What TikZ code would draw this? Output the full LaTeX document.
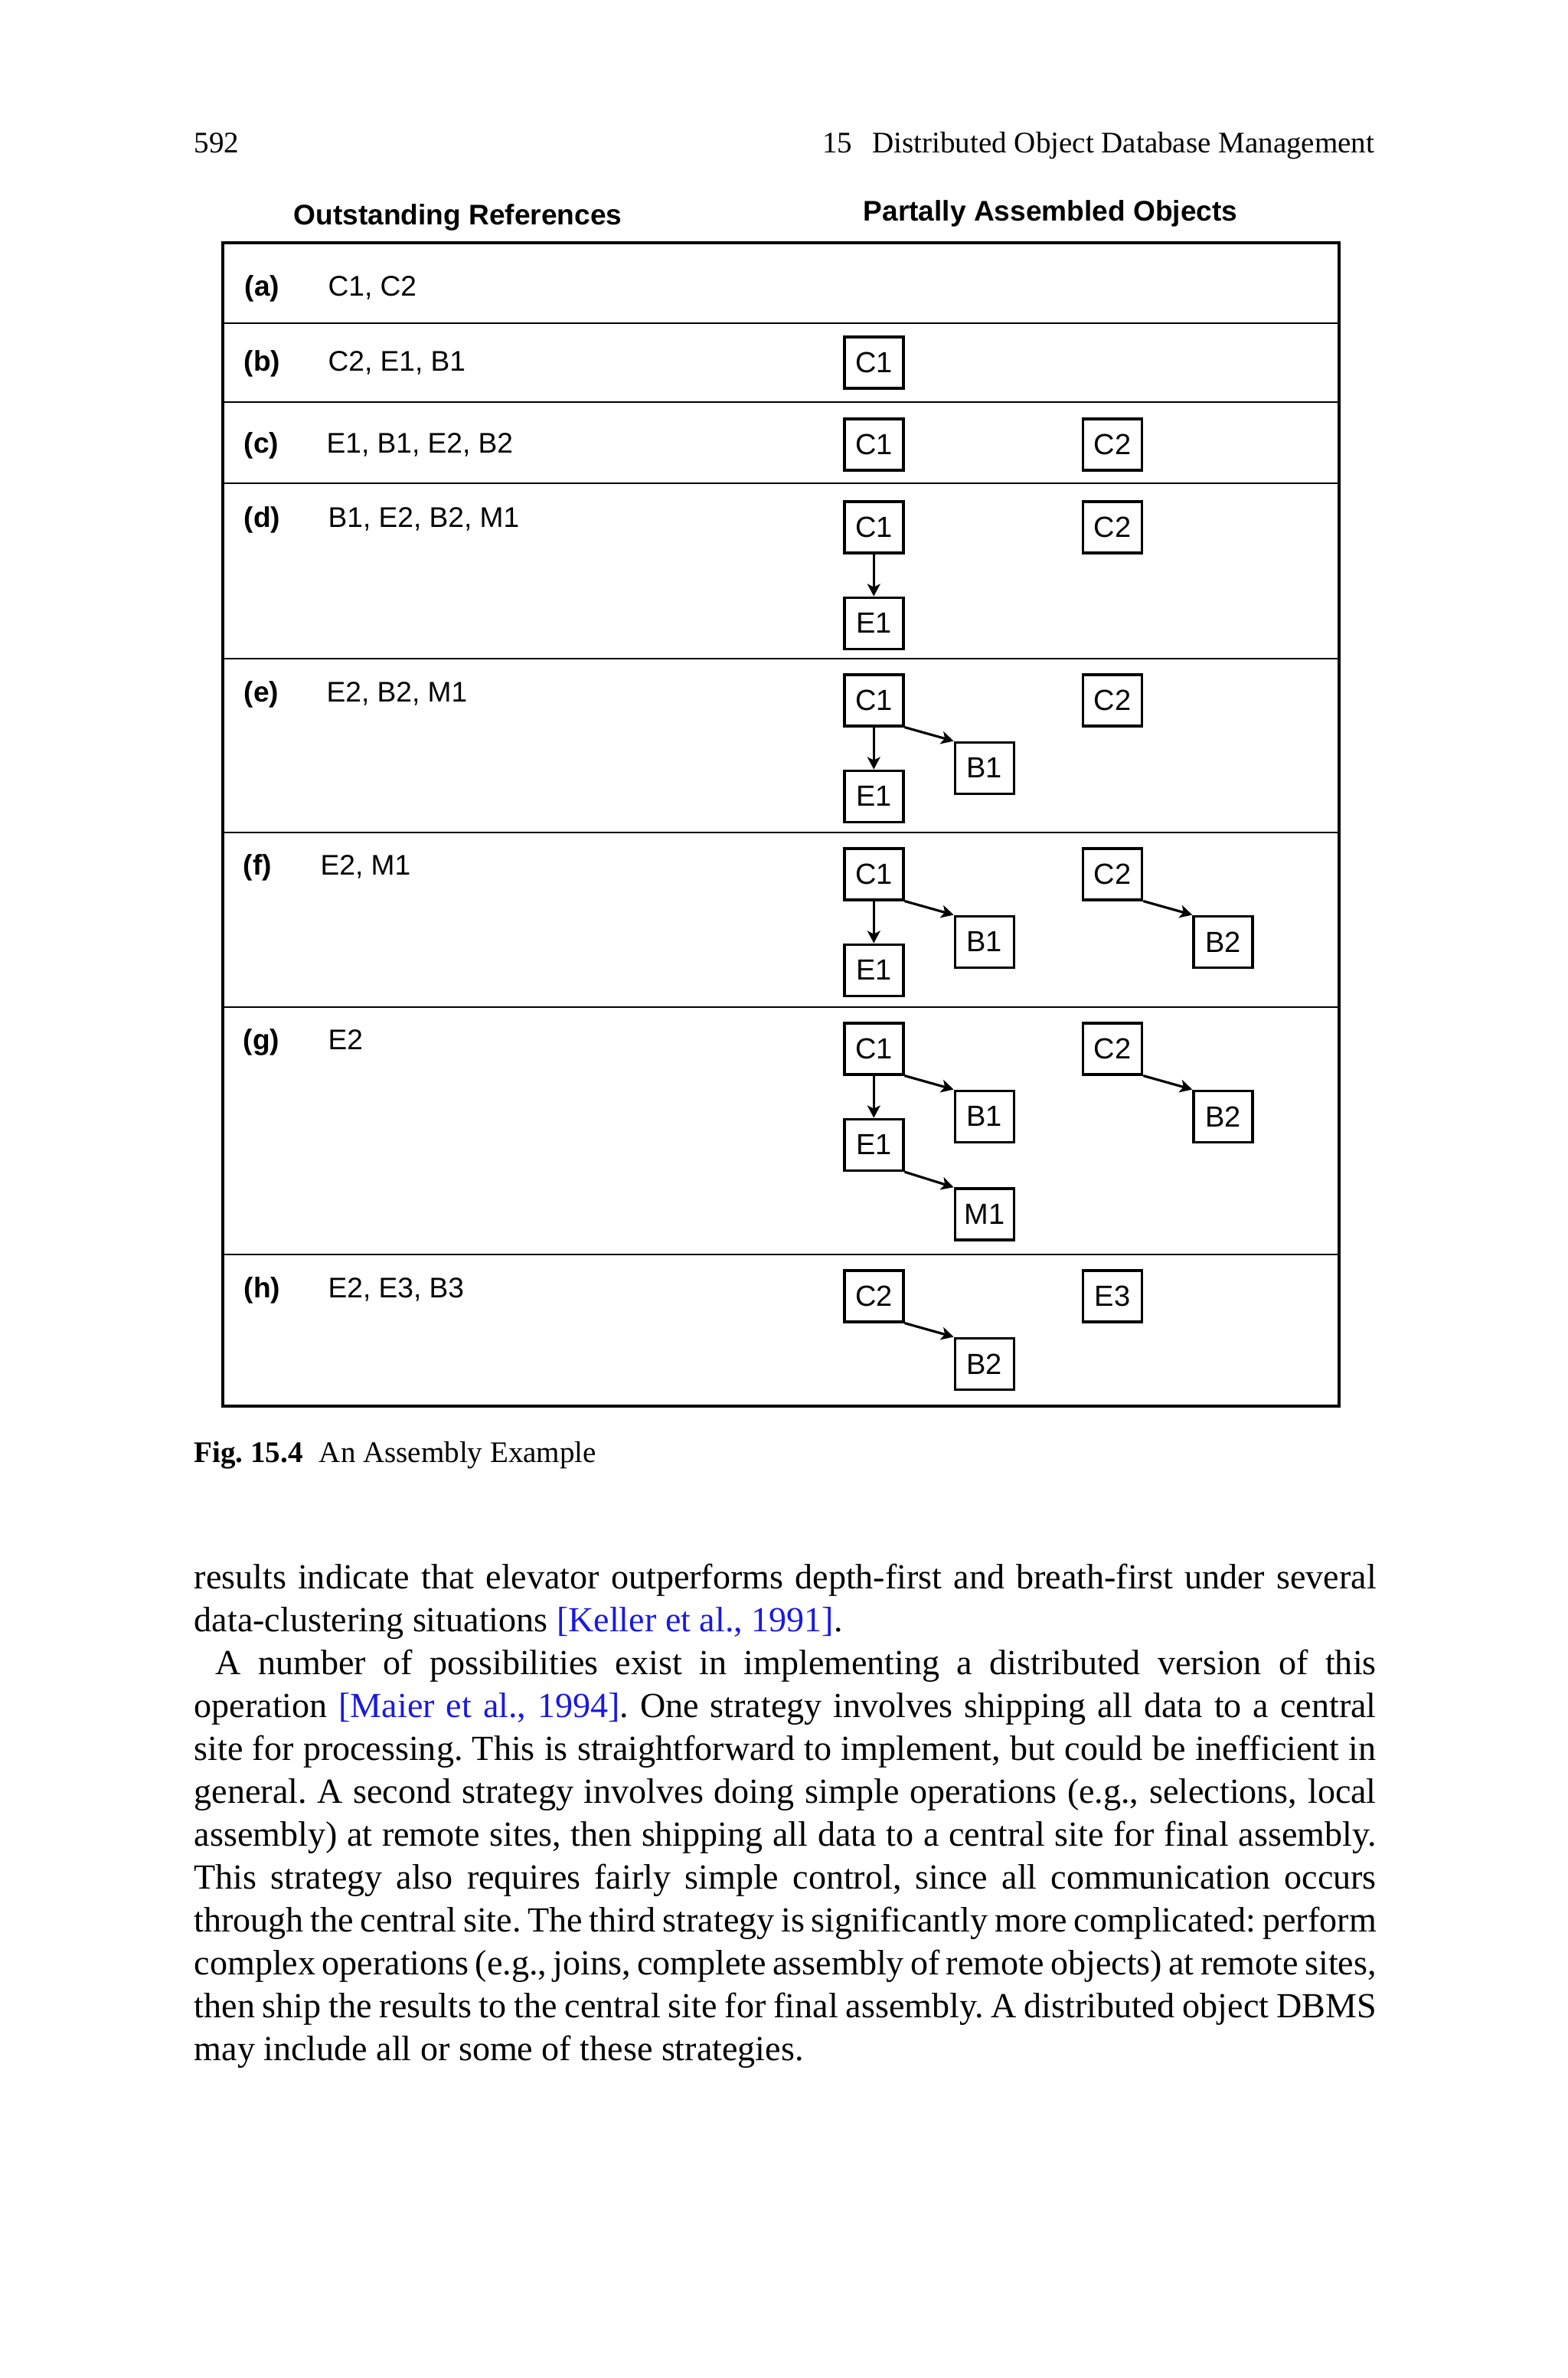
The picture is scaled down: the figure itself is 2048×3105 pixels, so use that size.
\documentclass[tikz,border=0pt]{standalone}
\usepackage{fontspec}
\setmainfont{Liberation Serif}
\newfontfamily\arialfont{Liberation Sans}
\usepackage{xcolor}
\usetikzlibrary{arrows.meta,positioning}
\definecolor{citeblue}{RGB}{25,25,225}
\frenchspacing
\newcommand{\justline}[1]{\makebox[15.43cm][s]{#1}}
\tikzset{obj/.style={draw,line width=1pt,minimum width=0.77cm,minimum height=0.67cm,inner sep=0pt,font=\arialfont\fontsize{10.8}{12}\selectfont},
  refarrow/.style={-{Stealth[length=4.6pt,width=4.8pt,inset=1.2pt]},line width=0.9pt},
  rowlab/.style={anchor=base west,inner sep=0pt,font=\arialfont\bfseries\fontsize{10.55}{12}\selectfont},
  rowtxt/.style={anchor=base west,inner sep=0pt,font=\arialfont\fontsize{10.55}{12}\selectfont},
  bodytext/.style={anchor=base west,inner sep=0pt,font=\fontsize{13.1}{15.9}\selectfont},
  headline/.style={inner sep=0pt,font=\fontsize{11.1}{13}\selectfont}}

\begin{document}
\begin{tikzpicture}[x=0.01cm,y=-0.01cm]
\useasboundingbox (0,0) rectangle (2048,3105);
% page head
\node[headline,anchor=base west] (pagenum) at (253,199) {592};
\node[headline,anchor=base east] (runhead) at (1796,199) {15\hspace{7.5pt}Distributed Object Database Management};

% table frame and rows
\node[rowlab] (refhead) at (383,293) {Outstanding References};
\node[rowlab] (objhead) at (1127,288) {Partally Assembled Objects};
\draw[line width=1.3pt] (291,317) rectangle (1749,1836);
\foreach \y in {422,525,631,860,1087,1315,1638}
  \draw[line width=0.6pt] (291,\y) -- (1749,\y);

% (a)
\node[rowlab] (la) at (319,386) {(a)};
\node[rowtxt] (ta) at (428,386) {C1, C2};
% (b)
\node[rowlab] (lb) at (318,484) {(b)};
\node[rowtxt] (tb) at (428,484) {C2, E1, B1};
\node[obj,anchor=north west] (c1b) at (1101,438) {C1};
% (c)
\node[rowlab] (lc) at (318,591) {(c)};
\node[rowtxt] (tc) at (426,591) {E1, B1, E2, B2};
\node[obj,anchor=north west] (c1c) at (1101,545) {C1};
\node[obj,right=2.31cm of c1c] (c2c) {C2};
% (d)
\node[rowlab] (ld) at (318,688) {(d)};
\node[rowtxt] (td) at (428,688) {B1, E2, B2, M1};
\node[obj,anchor=north west] (c1d) at (1101,653) {C1};
\node[obj,below=0.55cm of c1d] (e1d) {E1};
\node[obj,right=2.31cm of c1d] (c2d) {C2};
\draw[refarrow] (c1d) -- (e1d);
% (e)
\node[rowlab] (le) at (318,916) {(e)};
\node[rowtxt] (te) at (426,916) {E2, B2, M1};
\node[obj,anchor=north west] (c1e) at (1101,879) {C1};
\node[obj,below=0.55cm of c1e] (e1e) {E1};
\node[obj,below right=0.18cm and 0.64cm of c1e] (b1e) {B1};
\node[obj,right=2.31cm of c1e] (c2e) {C2};
\draw[refarrow] (c1e) -- (e1e);
\draw[refarrow] (c1e.south east) -- (b1e.north west);
% (f)
\node[rowlab] (lf) at (317,1142) {(f)};
\node[rowtxt] (tf) at (418,1142) {E2, M1};
\node[obj,anchor=north west] (c1f) at (1101,1106) {C1};
\node[obj,below=0.55cm of c1f] (e1f) {E1};
\node[obj,below right=0.18cm and 0.64cm of c1f] (b1f) {B1};
\node[obj,right=2.31cm of c1f] (c2f) {C2};
\node[obj,below right=0.18cm and 0.64cm of c2f] (b2f) {B2};
\draw[refarrow] (c1f) -- (e1f);
\draw[refarrow] (c1f.south east) -- (b1f.north west);
\draw[refarrow] (c2f.south east) -- (b2f.north west);
% (g)
\node[rowlab] (lg) at (317,1370) {(g)};
\node[rowtxt] (tg) at (428,1370) {E2};
\node[obj,anchor=north west] (c1g) at (1101,1334) {C1};
\node[obj,below=0.55cm of c1g] (e1g) {E1};
\node[obj,below right=0.18cm and 0.64cm of c1g] (b1g) {B1};
\node[obj,below right=0.2cm and 0.64cm of e1g] (m1g) {M1};
\node[obj,right=2.31cm of c1g] (c2g) {C2};
\node[obj,below right=0.18cm and 0.64cm of c2g] (b2g) {B2};
\draw[refarrow] (c1g) -- (e1g);
\draw[refarrow] (c1g.south east) -- (b1g.north west);
\draw[refarrow] (e1g.south east) -- (m1g.north west);
\draw[refarrow] (c2g.south east) -- (b2g.north west);
% (h)
\node[rowlab] (lh) at (318,1694) {(h)};
\node[rowtxt] (th) at (428,1694) {E2, E3, B3};
\node[obj,anchor=north west] (c2h) at (1101,1657) {C2};
\node[obj,below right=0.18cm and 0.64cm of c2h] (b2h) {B2};
\node[obj,right=2.31cm of c2h] (e3h) {E3};
\draw[refarrow] (c2h.south east) -- (b2h.north west);

% caption
\node[headline,anchor=base west] (caption) at (253,1909) {\textbf{Fig. 15.4}\hspace{6pt}An Assembly Example};

% running text
\node[bodytext] (l1) at (253,2074) {\justline{results indicate that elevator outperforms depth-first and breath-first under several}};
\node[bodytext] (l2) at (253,2130) {data-clustering situations {\color{citeblue}[Keller et al., 1991]}.};
\node[bodytext] (l3) at (281,2186) {\makebox[15.15cm][s]{A number of possibilities exist in implementing a distributed version of this}};
\node[bodytext] (l4) at (253,2242) {\justline{operation {\color{citeblue}[Maier et al., 1994]}. One strategy involves shipping all data to a central}};
\node[bodytext] (l5) at (253,2298) {\justline{site for processing. This is straightforward to implement, but could be inefficient in}};
\node[bodytext] (l6) at (253,2354) {\justline{general. A second strategy involves doing simple operations (e.g., selections, local}};
\node[bodytext] (l7) at (253,2410) {\justline{assembly) at remote sites, then shipping all data to a central site for final assembly.}};
\node[bodytext] (l8) at (253,2466) {\justline{This strategy also requires fairly simple control, since all communication occurs}};
\node[bodytext] (l9) at (253,2522) {\justline{through the central site. The third strategy is significantly more complicated: perform}};
\node[bodytext] (l10) at (253,2578) {\justline{complex operations (e.g., joins, complete assembly of remote objects) at remote sites,}};
\node[bodytext] (l11) at (253,2634) {\justline{then ship the results to the central site for final assembly. A distributed object DBMS}};
\node[bodytext] (l12) at (253,2690) {may include all or some of these strategies.};
\end{tikzpicture}
\end{document}
